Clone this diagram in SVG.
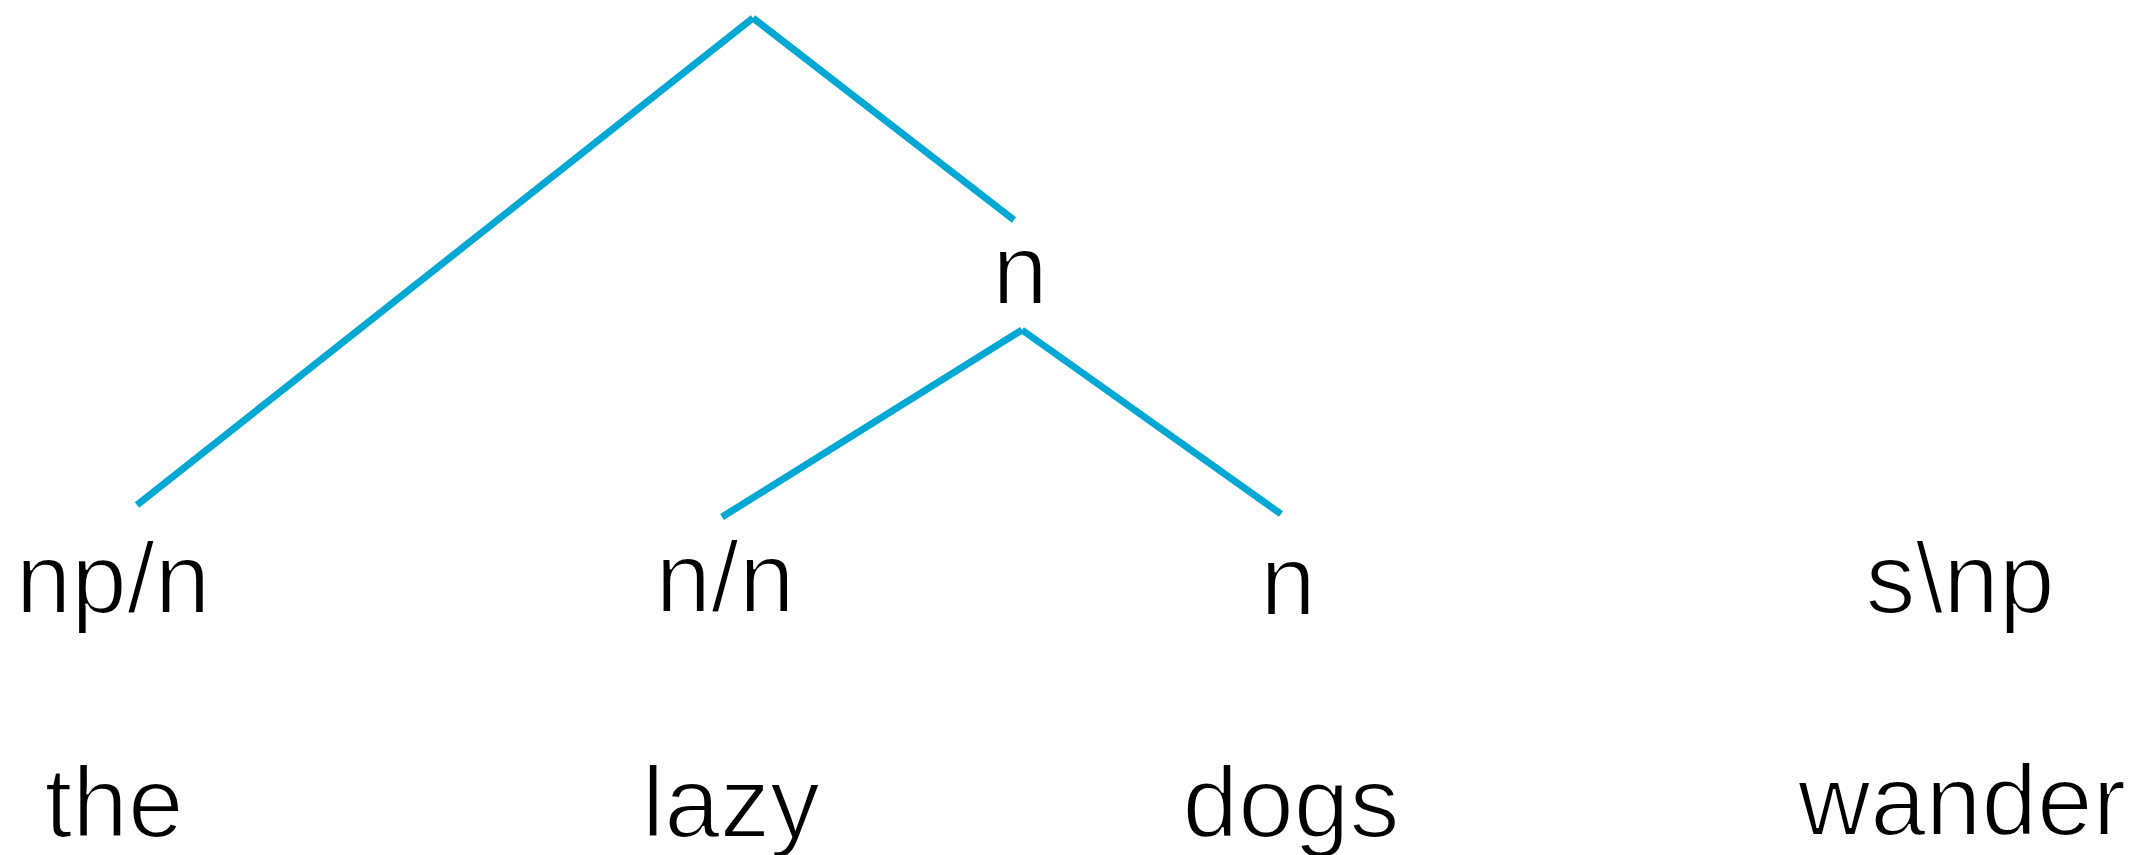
<svg xmlns="http://www.w3.org/2000/svg" width="2145" height="855" viewBox="0 0 2145 855">
<style>
.edge{stroke:#02A8D4;stroke-width:7;stroke-linecap:butt;fill:none}
.lbl{font-family:"Liberation Sans",Arial,Helvetica,sans-serif;font-size:100px;fill:#000;text-anchor:middle;stroke:#fff;stroke-width:2.2px}
</style>
<rect width="2145" height="855" fill="#fff"/>
<g id="connectors">
<line class="edge" x1="753" y1="18" x2="137" y2="505"/>
<line class="edge" x1="753" y1="18" x2="1014" y2="220"/>
<line class="edge" x1="1022" y1="330" x2="722" y2="517"/>
<line class="edge" x1="1022" y1="330" x2="1281" y2="514"/>
</g>
<g id="node-n-mid"><text class="lbl" x="1020" y="304">n</text></g>
<g id="node-npn"><text class="lbl" x="113" y="613">np/n</text></g>
<g id="node-nn"><text class="lbl" x="725" y="612">n/n</text></g>
<g id="node-n"><text class="lbl" x="1288" y="615">n</text></g>
<g id="node-snp"><text class="lbl" x="1960" y="613">s\np</text></g>
<g id="word-the"><text class="lbl" x="114" y="837">the</text></g>
<g id="word-lazy"><text class="lbl" x="731" y="837">lazy</text></g>
<g id="word-dogs"><text class="lbl" x="1291" y="837">dogs</text></g>
<g id="word-wander"><text class="lbl" x="1962" y="835">wander</text></g>
</svg>
